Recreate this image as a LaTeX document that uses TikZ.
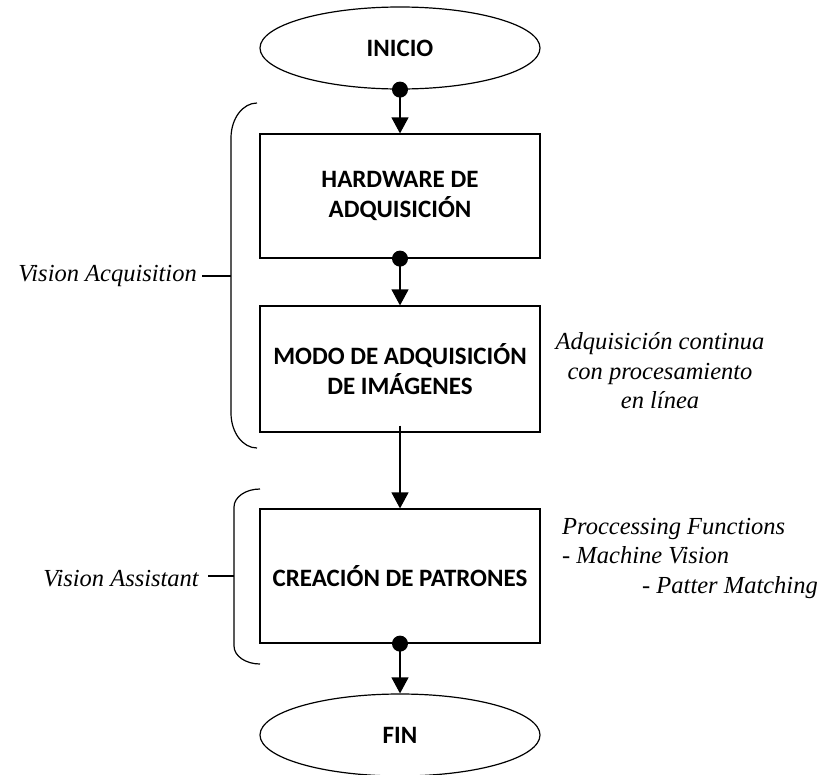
\documentclass[tikz,border=0pt]{standalone}
\usepackage{fontspec}
\setmainfont{Liberation Serif}
\newfontfamily\boxfont{Carlito}
\usetikzlibrary{shapes.geometric,arrows.meta,calc}

\tikzset{
  base/.style={draw=black, line width=1.2pt, inner sep=0pt, align=center,
    font=\boxfont\bfseries\fontsize{25}{30}\selectfont},
  terminal/.style={base, ellipse, minimum width=280pt, minimum height=82pt},
  process/.style={base, rectangle, minimum width=280pt},
  note/.style={font=\itshape\fontsize{24.5}{29.5}\selectfont, inner sep=0pt},
  flow/.style={line width=1.2pt, -{Triangle[length=16pt,width=17pt]}},
  bracket/.style={line width=1.2pt},
  junction/.style={fill=black}
}

\begin{document}
\begin{tikzpicture}[x=1pt, y=-1pt]
  \useasboundingbox (0,0) rectangle (821,774);

  % main flow
  \node[terminal] (inicio) at (400,48) {INICIO};
  \node[process, minimum height=124pt] (hw) at (400,196) {HARDWARE DE\\ADQUISICIÓN};
  \node[process, minimum height=126pt] (modo) at (400,369) {MODO DE ADQUISICIÓN\\DE IMÁGENES};
  \node[process, minimum height=134pt] (patron) at (400,576) {CREACIÓN DE PATRONES};
  \node[terminal] (fin) at (400,735) {FIN};

  % connectors
  \draw[flow] (inicio.south) -- (hw.north);
  \fill[junction] (inicio.south) circle (8pt);
  \draw[flow] (hw.south) -- (modo.north);
  \fill[junction] (hw.south) circle (8pt);
  \coordinate (modoout) at ($(modo.south)+(0,-7)$);
  \draw[flow] (modoout) -- (patron.north);
  \draw[flow] (patron.south) -- (fin.north);
  \fill[junction] (patron.south) circle (8pt);

  % bracket: Vision Acquisition (y axis points down, so angles are mirrored)
  \draw[bracket] (257,103) arc[start angle=-90, end angle=-180, x radius=26, y radius=35]
    -- (231,413) arc[start angle=180, end angle=90, x radius=26, y radius=35];
  \coordinate (vaqmid) at (231,276);
  \node[note, anchor=east] (vaq) at (197,276) {Vision Acquisition};
  \draw[bracket] (vaq.east) ++(5,0) -- (vaqmid);

  % bracket: Vision Assistant
  \draw[bracket] (260,489) arc[start angle=-90, end angle=-180, x radius=26, y radius=18]
    -- (234,646) arc[start angle=180, end angle=90, x radius=26, y radius=18];
  \coordinate (vasmid) at (234,576);
  \node[note, anchor=east] (vas) at (199,579) {Vision Assistant};
  \draw[bracket] (208,576) -- (vasmid);

  % side notes
  \node[note, align=center] (cont) at (660,371)
    {Adquisición continua\\con procesamiento\\en línea};
  \node[note, align=left, anchor=west] (proc) at (562,558)
    {Proccessing Functions\\- Machine Vision\\\hspace*{80pt}- Patter Matching};
\end{tikzpicture}
\end{document}
